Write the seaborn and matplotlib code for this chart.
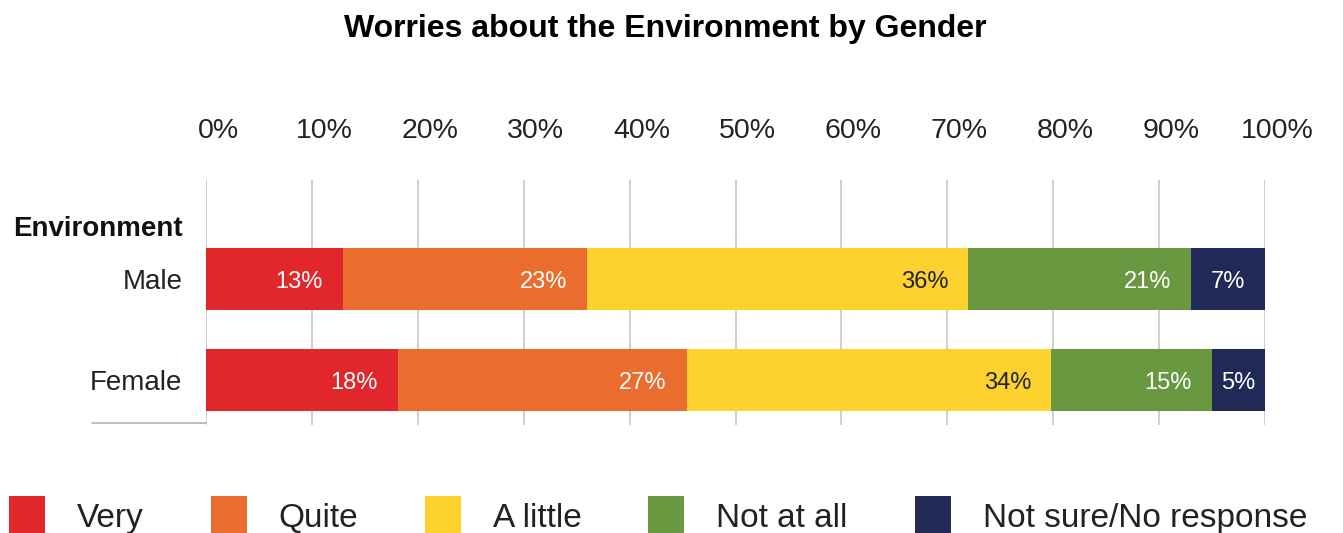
import matplotlib
matplotlib.use("Agg")
import matplotlib.pyplot as plt
import matplotlib.transforms as mtransforms
from matplotlib.patches import Patch
import seaborn as sns
import pandas as pd
import numpy as np

# ---- data ----
groups = ["Male", "Female"]
categories = ["Very", "Quite", "A little", "Not at all", "Not sure/No response"]
male_values = [12.9, 23.1, 36.0, 21.0, 7.0]
female_values = [18.1, 27.3, 34.4, 15.2, 5.0]
male_labels = ["13%", "23%", "36%", "21%", "7%"]
female_labels = ["18%", "27%", "34%", "15%", "5%"]
tick_values = [0, 10, 20, 30, 40, 50, 60, 70, 80, 90, 100]
tick_labels = [f"{v}%" for v in tick_values]
colors = ["#E1262C", "#EA6D2E", "#FDD22E", "#6A9840", "#212A56"]
text_colors = ["white", "white", "#222222", "white", "white"]

sns.set_theme(style="white")
plt.rcParams["font.family"] = ["Liberation Sans", "DejaVu Sans"]

DPI = 100
fig = plt.figure(figsize=(13.43, 5.33), dpi=DPI)
ax = fig.add_axes([206 / 1343, 1 - 425 / 533, (1265 - 206) / 1343, (425 - 180) / 533])

values = np.array([male_values, female_values])
labels = [male_labels, female_labels]
cum = np.cumsum(values, axis=1)
bar_w = 0.614

# draw cumulative bars from largest to smallest (stacked look)
for j in range(len(categories) - 1, -1, -1):
    df = pd.DataFrame({"group": groups, "value": cum[:, j]})
    sns.barplot(data=df, x="value", y="group", orient="h", color=colors[j],
                width=bar_w, linewidth=0, saturation=1, ax=ax, errorbar=None)

ax.set_xlim(0, 100)
ax.set_ylim(1.446, -0.98)

# value labels
px_per_unit = (1265 - 206) / 100
for i in range(len(groups)):
    for j in range(len(categories)):
        start = cum[i, j] - values[i, j]
        end = cum[i, j]
        if values[i, j] < 10:
            xpos = (start + end) / 2
            ha = "center"
        else:
            xpos = end - 20 / px_per_unit
            ha = "right"
        ax.text(xpos, i + 0.03, labels[i][j], ha=ha, va="center",
                color=text_colors[j], fontsize=17)

# gridlines
for v in tick_values:
    ax.axvline(v, color="#c6c6c6", lw=1.2, zorder=0)

ax.xaxis.tick_top()
ax.set_xticks(tick_values)
ax.set_xticklabels(tick_labels, fontsize=20.5, color="#222222")
ax.tick_params(axis="x", length=0, pad=26)
offset = mtransforms.ScaledTranslation(12 / DPI, 0, fig.dpi_scale_trans)
for lbl in ax.get_xticklabels():
    lbl.set_transform(lbl.get_transform() + offset)

ax.set_yticks([0, 1])
ax.set_yticklabels(groups, fontsize=20, color="#222222")
ax.tick_params(axis="y", length=0, pad=17)
ax.set_xlabel("")
ax.set_ylabel("")
for s in ax.spines.values():
    s.set_visible(False)

# bottom line left of the axes
ax.plot([-0.1077, 0], [0.008, 0.008], transform=ax.transAxes, color="#b0b0b0",
        lw=1.2, clip_on=False)

# group header
fig.text(183 / 1343, 1 - 229 / 533, "Environment", ha="right", va="center",
         fontsize=20, fontweight="bold", color="#111111")

# title
fig.text(665 / 1343, 1 - 29 / 533, "Worries about the Environment by Gender",
         ha="center", va="center", fontsize=23, fontweight="bold", color="black")

# legend
handles = [Patch(facecolor=c, edgecolor="none") for c in colors]
fig.legend(handles, categories, loc="lower left", bbox_to_anchor=(0.002, -0.016),
           ncol=5, frameon=False, fontsize=24, handlelength=1.08, handleheight=1.4,
           handletextpad=0.96, columnspacing=2.0, labelcolor="#222222",
           borderaxespad=0.0, borderpad=0.2)

fig.savefig("out.png", dpi=DPI)
